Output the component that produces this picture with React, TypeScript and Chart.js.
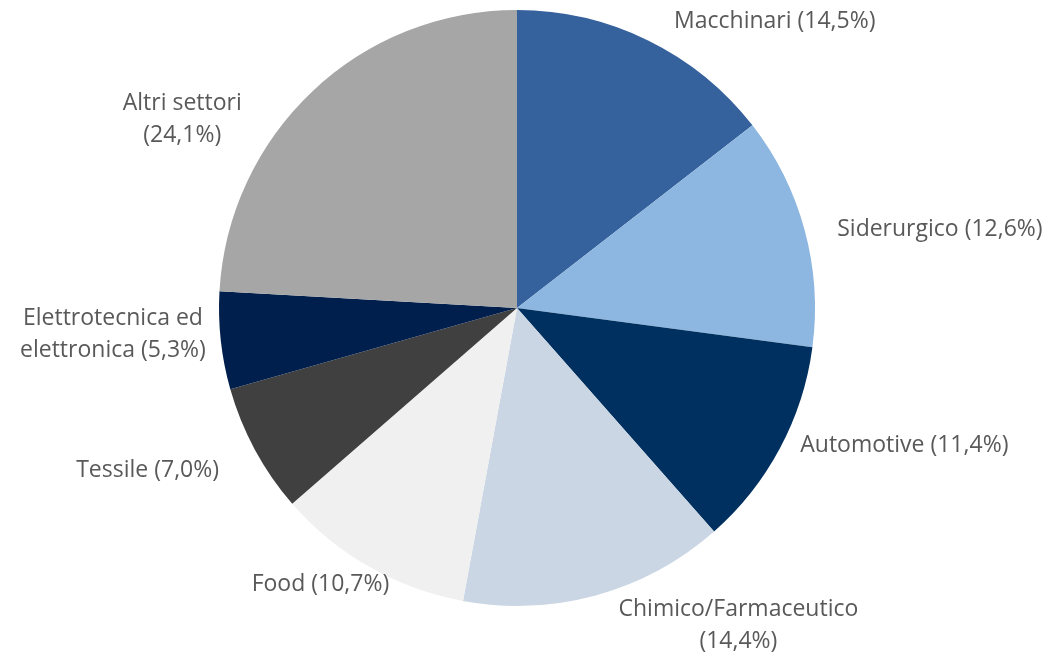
import React, { useEffect, useRef } from "react";
import { Chart, registerables } from "chart.js";

Chart.register(...registerables);

const categories = [
  "Macchinari",
  "Siderurgico",
  "Automotive",
  "Chimico/Farmaceutico",
  "Food",
  "Tessile",
  "Elettrotecnica ed elettronica",
  "Altri settori",
];
const values = [14.5, 12.6, 11.4, 14.4, 10.7, 7.0, 5.3, 24.1];
const colors = [
  "#35619C",
  "#8DB7E0",
  "#00305F",
  "#CAD6E4",
  "#F0F0F0",
  "#404040",
  "#001F4D",
  "#A6A6A6",
];
// how each label's category name is wrapped (value appended to last line or own line)
const labelBreaks: string[][] = [
  ["Macchinari (#)"],
  ["Siderurgico (#)"],
  ["Automotive (#)"],
  ["Chimico/Farmaceutico", "(#)"],
  ["Food (#)"],
  ["Tessile (#)"],
  ["Elettrotecnica ed", "elettronica (#)"],
  ["Altri settori", "(#)"],
];

const fmt = (v: number) => v.toFixed(1).replace(".", ",") + "%";

// label placement nudges (layout only) relative to an anchor just outside the arc
const labelNudges: [number, number][] = [
  [117, 1],
  [114, 5],
  [105, -13],
  [136, 9],
  [-38, -2],
  [-88, 10],
  [-86, -9],
  [-115, 44],
];

const outsideLabels = {
  id: "outsideLabels",
  afterDatasetsDraw(chart: any) {
    const ctx = chart.ctx;
    const meta = chart.getDatasetMeta(0);
    ctx.save();
    ctx.font = "23px 'Open Sans', sans-serif";
    ctx.fillStyle = "#595959";
    ctx.textAlign = "center";
    ctx.textBaseline = "middle";
    const lineH = 32;
    meta.data.forEach((arc: any, i: number) => {
      const { x, y, startAngle, endAngle, outerRadius } = arc.getProps(
        ["x", "y", "startAngle", "endAngle", "outerRadius"],
        true
      );
      const mid = (startAngle + endAngle) / 2;
      const R = outerRadius + 22;
      const ax = x + Math.cos(mid) * R + labelNudges[i][0];
      const ay = y + Math.sin(mid) * R + labelNudges[i][1];
      const lines = labelBreaks[i].map((l) => l.replace("#", fmt(values[i])));
      const top = ay - ((lines.length - 1) * lineH) / 2;
      lines.forEach((l, k) => ctx.fillText(l, ax, top + k * lineH));
    });
    ctx.restore();
  },
};

export default function App() {
  const ref = useRef<HTMLCanvasElement | null>(null);
  useEffect(() => {
    document.body.style.margin = "0";
    const chart = new Chart(ref.current as HTMLCanvasElement, {
      type: "pie",
      data: {
        labels: categories,
        datasets: [
          {
            data: values,
            backgroundColor: colors,
            borderWidth: 0,
          },
        ],
      },
      options: {
        responsive: false,
        animation: false,
        layout: { padding: { top: 10, bottom: 51, left: 219, right: 238 } },
        plugins: {
          legend: { display: false },
          tooltip: { enabled: false },
        },
      },
      plugins: [outsideLabels],
    });
    return () => chart.destroy();
  }, []);
  return (
    <div style={{ width: 1053, height: 657, background: "#fff" }}>
      <canvas ref={ref} width={1053} height={657} />
    </div>
  );
}
